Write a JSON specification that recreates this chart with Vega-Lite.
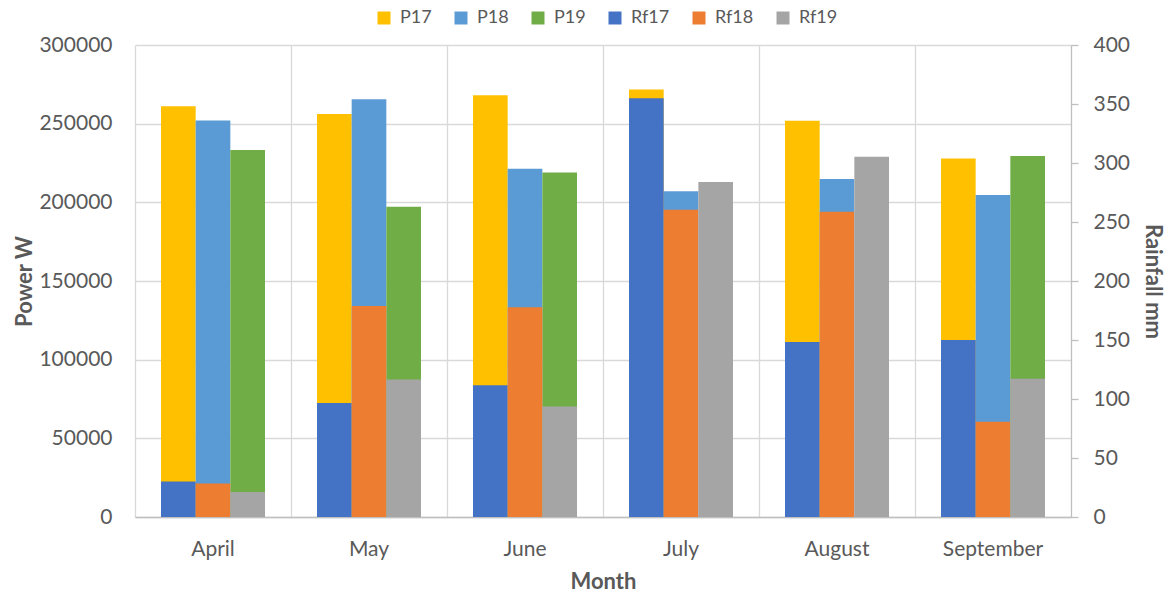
{
  "$schema": "https://vega.github.io/schema/vega-lite/v6.json",
  "autosize": {"type": "none"},
  "padding": {"left": 135, "top": 45, "right": 98, "bottom": 80},
  "width": 936,
  "height": 472,
  "background": "white",
  "config": {
    "view": {"stroke": null},
    "font": "Lato",
    "axis": {"labelColor": "#595959", "titleColor": "#595959", "labelFont": "Lato", "titleFont": "Lato"},
    "legend": {"labelColor": "#595959", "labelFont": "Lato"}
  },
  "data": {
    "values": [
      {"month": "April", "series": "P17", "year": "17", "type": "P", "value": 261000},
      {"month": "April", "series": "P18", "year": "18", "type": "P", "value": 252000},
      {"month": "April", "series": "P19", "year": "19", "type": "P", "value": 233300},
      {"month": "April", "series": "Rf17", "year": "17", "type": "Rf", "value": 30.1},
      {"month": "April", "series": "Rf18", "year": "18", "type": "Rf", "value": 28.4},
      {"month": "April", "series": "Rf19", "year": "19", "type": "Rf", "value": 21.2},
      {"month": "May", "series": "P17", "year": "17", "type": "P", "value": 256200},
      {"month": "May", "series": "P18", "year": "18", "type": "P", "value": 265500},
      {"month": "May", "series": "P19", "year": "19", "type": "P", "value": 197200},
      {"month": "May", "series": "Rf17", "year": "17", "type": "Rf", "value": 96.7},
      {"month": "May", "series": "Rf18", "year": "18", "type": "Rf", "value": 178.8},
      {"month": "May", "series": "Rf19", "year": "19", "type": "Rf", "value": 116.5},
      {"month": "June", "series": "P17", "year": "17", "type": "P", "value": 268100},
      {"month": "June", "series": "P18", "year": "18", "type": "P", "value": 221300},
      {"month": "June", "series": "P19", "year": "19", "type": "P", "value": 219000},
      {"month": "June", "series": "Rf17", "year": "17", "type": "Rf", "value": 111.7},
      {"month": "June", "series": "Rf18", "year": "18", "type": "Rf", "value": 177.7},
      {"month": "June", "series": "Rf19", "year": "19", "type": "Rf", "value": 93.6},
      {"month": "July", "series": "P17", "year": "17", "type": "P", "value": 271700},
      {"month": "July", "series": "P18", "year": "18", "type": "P", "value": 207100},
      {"month": "July", "series": "Rf17", "year": "17", "type": "Rf", "value": 354.9},
      {"month": "July", "series": "Rf18", "year": "18", "type": "Rf", "value": 260.4},
      {"month": "July", "series": "Rf19", "year": "19", "type": "Rf", "value": 284.0},
      {"month": "August", "series": "P17", "year": "17", "type": "P", "value": 251800},
      {"month": "August", "series": "P18", "year": "18", "type": "P", "value": 214900},
      {"month": "August", "series": "Rf17", "year": "17", "type": "Rf", "value": 148.4},
      {"month": "August", "series": "Rf18", "year": "18", "type": "Rf", "value": 258.7},
      {"month": "August", "series": "Rf19", "year": "19", "type": "Rf", "value": 305.2},
      {"month": "September", "series": "P17", "year": "17", "type": "P", "value": 227900},
      {"month": "September", "series": "P18", "year": "18", "type": "P", "value": 204600},
      {"month": "September", "series": "P19", "year": "19", "type": "P", "value": 229500},
      {"month": "September", "series": "Rf17", "year": "17", "type": "Rf", "value": 150.1},
      {"month": "September", "series": "Rf18", "year": "18", "type": "Rf", "value": 80.7},
      {"month": "September", "series": "Rf19", "year": "19", "type": "Rf", "value": 117.1}
    ]
  },
  "encoding": {
    "x": {
      "field": "month", "type": "nominal",
      "sort": ["April", "May", "June", "July", "August", "September"],
      "scale": {"paddingInner": 0, "paddingOuter": 0},
      "axis": {
        "title": "Month", "titleFontSize": 22, "titleFontWeight": "bold", "titlePadding": 12,
        "labelFontSize": 21, "labelPadding": 21, "labelAngle": 0,
        "ticks": false, "domain": true, "domainColor": "#BFBFBF", "domainWidth": 1.3,
        "grid": true, "gridColor": "#D9D9D9", "gridWidth": 1.3, "bandPosition": 0
      }
    },
    "xOffset": {
      "field": "year", "type": "nominal",
      "scale": {"paddingInner": 0, "paddingOuter": 0.75}
    },
    "color": {
      "field": "series", "type": "nominal",
      "scale": {
        "domain": ["P17", "P18", "P19", "Rf17", "Rf18", "Rf19"],
        "range": ["#FFC000", "#5B9BD5", "#70AD47", "#4472C4", "#ED7D31", "#A5A5A5"]
      },
      "legend": {
        "title": null, "orient": "none", "direction": "horizontal", "columns": 6,
        "legendX": 240, "legendY": -36, "padding": 0,
        "symbolType": "square", "symbolSize": 169, "symbolStrokeWidth": 0,
        "labelFontSize": 18, "labelOffset": 7, "columnPadding": 20
      }
    }
  },
  "layer": [
    {
      "transform": [{"filter": "datum.type == 'P'"}],
      "mark": {"type": "bar", "strokeWidth": 0},
      "encoding": {
        "y": {
          "field": "value", "type": "quantitative",
          "scale": {"domain": [0, 300000], "nice": false},
          "axis": {
            "orient": "left", "title": "Power W", "titleFontSize": 22, "titleFontWeight": "bold", "titlePadding": 2,
            "values": [0, 50000, 100000, 150000, 200000, 250000, 300000], "format": "d",
            "labelFontSize": 21, "labelPadding": 23, "ticks": false, "tickSize": 0, "domain": false,
            "grid": true, "gridColor": "#D9D9D9", "gridWidth": 1.3
          }
        }
      }
    },
    {
      "transform": [{"filter": "datum.type == 'Rf'"}],
      "mark": {"type": "bar", "strokeWidth": 0},
      "encoding": {
        "y": {
          "field": "value", "type": "quantitative",
          "scale": {"domain": [0, 400], "nice": false},
          "axis": {
            "orient": "right", "title": "Rainfall mm", "titleFontSize": 22, "titleFontWeight": "bold", "titlePadding": 11,
            "values": [0, 50, 100, 150, 200, 250, 300, 350, 400], "format": "d",
            "labelFontSize": 21, "labelPadding": 15, "ticks": true, "tickSize": 7, "tickColor": "#BFBFBF", "tickWidth": 1.3,
            "domain": true, "domainColor": "#BFBFBF", "domainWidth": 1.3, "grid": false
          }
        }
      }
    }
  ],
  "resolve": {"scale": {"y": "independent"}, "axis": {"y": "independent"}}
}
